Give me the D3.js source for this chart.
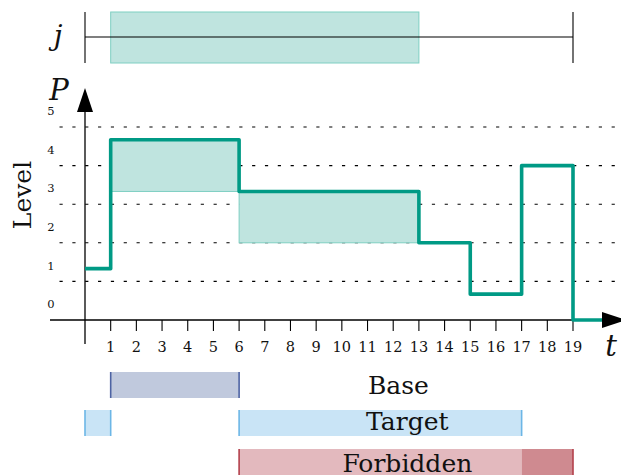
<!DOCTYPE html>
<html>
<head>
<meta charset="utf-8">
<script src="https://cdn.jsdelivr.net/npm/d3@7"></script>
<style>
    body { margin: 0; background: #fff; }
    text { font-family: "DejaVu Serif", serif; fill: #111; }
</style>
</head>
<body>
<div id="chart"></div>
<script>

// step profile P(t)
const stepStarts = [0, 1, 6, 13, 15, 17, 19];
const stepPower  = [1.33, 4.67, 3.33, 2, 0.67, 4, 0];
const stepEnd = 21;

// shaded areas under the profile
const shadeStart = [1, 6];
const shadeEnd   = [6, 13];
const shadeLow   = [3.33, 2];
const shadeHigh  = [4.67, 3.33];

// job j window
const jobSpan = [0, 19];
const jobWindow = [1, 13];

const xTicks = d3.range(1, 20);
const levelTicks = [0, 1, 2, 3, 4, 5];
const gridLevels = [1, 2, 3, 4, 5];

// interval rows below the axis
const rowNames = ["Base", "Target", "Forbidden"];
const baseIntervals = [[1, 6]];
const targetIntervals = [[0, 1], [6, 17]];
const forbiddenIntervals = [[6, 17]];
const forbiddenHard = [[17, 19]];

class StepChart {

    constructor () {
        this.drawChart();
    }

    drawChart () {

        let W = 621, H = 476;

        let svg = d3.select("#chart")
            .append("svg")
            .attr("width", W)
            .attr("height", H);

        let xScale = d3.scaleLinear()
            .domain([0, 19])
            .range([85, 573]);

        let yScale = d3.scaleLinear()
            .domain([0, 5])
            .range([320, 127]);

        let teal = "#009a85";

        // ---- top: job j
        let top = svg.append("g");
        top.append("rect")
            .attr("x", xScale(jobWindow[0]))
            .attr("y", 12)
            .attr("width", xScale(jobWindow[1]) - xScale(jobWindow[0]))
            .attr("height", 51)
            .attr("fill", "#bfe4df")
            .attr("stroke", "#7fcfc2")
            .attr("stroke-width", 1);
        top.append("line")
            .attr("x1", xScale(jobSpan[0])).attr("x2", xScale(jobSpan[1]))
            .attr("y1", 37).attr("y2", 37)
            .attr("stroke", "#000").attr("stroke-width", 1.1);
        top.selectAll(".jend")
            .data(jobSpan)
            .join("line")
            .attr("x1", d => xScale(d)).attr("x2", d => xScale(d))
            .attr("y1", 12).attr("y2", 63)
            .attr("stroke", "#000").attr("stroke-width", 1.1);
        top.append("text")
            .text("j")
            .attr("x", 58).attr("y", 45)
            .attr("text-anchor", "middle")
            .attr("font-style", "italic")
            .attr("font-size", 28);

        // ---- dotted level lines
        svg.append("g")
            .selectAll("line")
            .data(gridLevels)
            .join("line")
            .attr("x1", 59.5).attr("x2", W)
            .attr("y1", d => yScale(d)).attr("y2", d => yScale(d))
            .attr("stroke", "#000")
            .attr("stroke-width", 1.1)
            .attr("stroke-dasharray", "3.2 9.64");

        // ---- shaded areas
        svg.append("g")
            .selectAll("rect")
            .data(shadeStart.map((s, i) => ({s: s, e: shadeEnd[i], lo: shadeLow[i], hi: shadeHigh[i]})))
            .join("rect")
            .attr("x", d => xScale(d.s))
            .attr("y", d => yScale(d.hi))
            .attr("width", d => xScale(d.e) - xScale(d.s))
            .attr("height", d => yScale(d.lo) - yScale(d.hi))
            .attr("fill", "#bfe4df")
            .attr("stroke", "#7fcfc2")
            .attr("stroke-width", 1);

        // ---- axes
        let axes = svg.append("g");
        axes.append("line")
            .attr("x1", 50).attr("x2", 605)
            .attr("y1", yScale(0)).attr("y2", yScale(0))
            .attr("stroke", "#000").attr("stroke-width", 1.3);
        axes.append("line")
            .attr("x1", xScale(0)).attr("x2", xScale(0))
            .attr("y1", 344).attr("y2", 108)
            .attr("stroke", "#000").attr("stroke-width", 1.3);

        axes.selectAll(".tick")
            .data(xTicks)
            .join("line")
            .attr("x1", d => xScale(d)).attr("x2", d => xScale(d))
            .attr("y1", yScale(0)).attr("y2", 331)
            .attr("stroke", "#000").attr("stroke-width", 1.1);

        axes.selectAll(".xlab")
            .data(xTicks)
            .join("text")
            .text(d => d)
            .attr("x", d => xScale(d))
            .attr("y", 352)
            .attr("text-anchor", "middle")
            .attr("font-size", 14.5);

        axes.selectAll(".ylab")
            .data(levelTicks)
            .join("text")
            .text(d => d)
            .attr("x", 51)
            .attr("y", d => yScale(d + 0.42) + 4.5)
            .attr("text-anchor", "middle")
            .attr("font-size", 11.5);

        svg.append("text")
            .text("Level")
            .attr("transform", "translate(31,195)rotate(-90)")
            .attr("text-anchor", "middle")
            .attr("font-size", 25);

        // ---- step profile
        let stepPts = stepStarts.map((s, i) => [s, stepPower[i]]);
        stepPts.push([stepEnd, stepPower[stepPower.length - 1]]);
        let line = d3.line()
            .x(d => xScale(d[0]))
            .y(d => yScale(d[1]))
            .curve(d3.curveStepAfter);
        svg.append("path")
            .datum(stepPts)
            .attr("d", line)
            .attr("fill", "none")
            .attr("stroke", teal)
            .attr("stroke-width", 3.6)
            .attr("stroke-linejoin", "round");

        // arrow heads
        let ax0 = xScale(0), ay0 = yScale(0);
        svg.append("path")
            .attr("d", `M${ax0},88 L${ax0 - 8},112 L${ax0 + 8},112 Z`)
            .attr("fill", "#000");
        svg.append("path")
            .attr("d", `M626,${ay0} L602,${ay0 - 8} L602,${ay0 + 8} Z`)
            .attr("fill", "#000");

        svg.append("text")
            .text("P")
            .attr("x", 59).attr("y", 100)
            .attr("text-anchor", "middle")
            .attr("font-style", "italic")
            .attr("font-size", 29);
        svg.append("text")
            .text("t")
            .attr("x", 611).attr("y", 356)
            .attr("text-anchor", "middle")
            .attr("font-style", "italic")
            .attr("font-size", 29);

        // ---- interval rows
        let rows = [
            {name: rowNames[0], y: 372, base: 394, lx: 12.2, parts: baseIntervals, fill: "#c0c9dd", edge: "#4d63a3"},
            {name: rowNames[1], y: 410, base: 430, lx: 12.55, parts: targetIntervals, fill: "#c9e4f6", edge: "#6cb6e6"},
            {name: rowNames[2], y: 449, base: 472, lx: 12.55, parts: forbiddenIntervals, fill: "#e3b9be", edge: "#b3404c"}
        ];
        let rowH = 26;

        rows.forEach(function (r) {
            let g = svg.append("g");
            g.selectAll("rect")
                .data(r.parts)
                .join("rect")
                .attr("x", d => xScale(d[0]))
                .attr("y", r.y)
                .attr("width", d => xScale(d[1]) - xScale(d[0]))
                .attr("height", rowH)
                .attr("fill", r.fill);
            if (r.name === "Forbidden") {
                g.selectAll(".hard")
                    .data(forbiddenHard)
                    .join("rect")
                    .attr("x", d => xScale(d[0]))
                    .attr("y", r.y)
                    .attr("width", d => xScale(d[1]) - xScale(d[0]))
                    .attr("height", rowH)
                    .attr("fill", "#cf8a90");
            }
            let edges = r.parts.flat();
            if (r.name === "Forbidden") edges = [r.parts[0][0], forbiddenHard[0][1]];
            g.selectAll(".edge")
                .data(edges)
                .join("line")
                .attr("x1", d => xScale(d)).attr("x2", d => xScale(d))
                .attr("y1", r.y).attr("y2", r.y + rowH)
                .attr("stroke", r.edge)
                .attr("stroke-width", 1.6);
            g.append("text")
                .text(r.name)
                .attr("x", xScale(r.lx))
                .attr("y", r.base)
                .attr("text-anchor", "middle")
                .attr("font-size", 25);
        });
    }

}

new StepChart();
</script>
</body>
</html>
